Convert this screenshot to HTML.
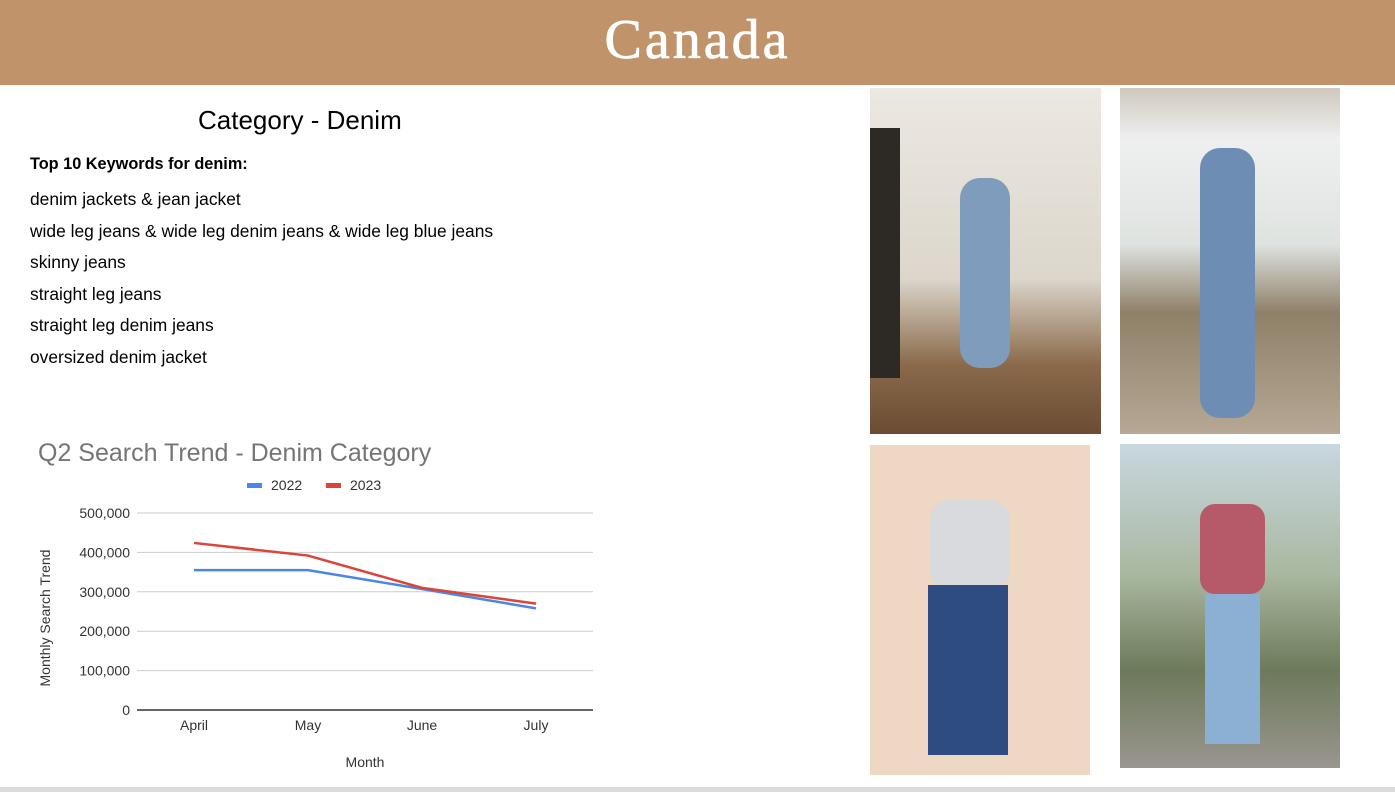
<!DOCTYPE html>
<html><head><meta charset="utf-8"><style>
body{margin:0;width:1395px;height:792px;background:#fff;position:relative;overflow:hidden;font-family:"Liberation Sans",sans-serif}
.hdr{position:absolute;left:0;top:0;width:1395px;height:85px;background:#c0936b}
.hdr h1{margin:0;text-align:center;color:#fff;font-family:"Liberation Serif",serif;font-weight:normal;font-size:56px;line-height:80px;letter-spacing:3px;-webkit-text-stroke:0.8px #fff}
.t{position:absolute;color:#000}
.ph{position:absolute}
</style></head><body>
<div class="hdr"><h1>Canada</h1></div>
<div class="t" style="left:198px;top:105px;font-size:26px">Category - Denim</div>
<div class="t" style="left:30px;top:155px;font-size:16.3px;font-weight:bold">Top 10 Keywords for denim:</div>
<div style="position:absolute;left:30px;top:184px;font-size:17.4px;line-height:31.6px">
<div>denim jackets &amp; jean jacket</div>
<div>wide leg jeans &amp; wide leg denim jeans &amp; wide leg blue jeans</div>
<div>skinny jeans</div>
<div>straight leg jeans</div>
<div>straight leg denim jeans</div>
<div>oversized denim jacket</div>
</div>
<svg id="chart" style="position:absolute;left:0;top:0" width="700" height="792"></svg>
<div class="ph" style="left:870px;top:88px;width:231px;height:346px;background:linear-gradient(180deg,#ece8e2 0%,#dcd6cc 55%,#8a6a4a 80%,#6b4c33 100%)"><div style="position:absolute;left:90px;top:90px;width:50px;height:190px;background:#7f9cbc;border-radius:20px"></div><div style="position:absolute;left:0;top:40px;width:30px;height:250px;background:#2d2a26"></div></div>
<div class="ph" style="left:1120px;top:88px;width:220px;height:346px;background:linear-gradient(180deg,#cfc8bd 0%,#eef0f0 15%,#dfe3e0 45%,#8f8068 65%,#b6a894 100%)"><div style="position:absolute;left:80px;top:60px;width:55px;height:270px;background:#6d8db5;border-radius:20px"></div></div>
<div class="ph" style="left:870px;top:445px;width:220px;height:330px;background:#eed7c3"><div style="position:absolute;left:60px;top:55px;width:80px;height:90px;background:#d9dadd;border-radius:20px"></div><div style="position:absolute;left:58px;top:140px;width:80px;height:170px;background:#2e4b82"></div></div>
<div class="ph" style="left:1120px;top:444px;width:220px;height:324px;background:linear-gradient(180deg,#c9d7e0 0%,#a9b8a0 40%,#6d7a5a 70%,#9a9690 100%)"><div style="position:absolute;left:80px;top:60px;width:65px;height:90px;background:#b65a6a;border-radius:15px"></div><div style="position:absolute;left:85px;top:150px;width:55px;height:150px;background:#8cb0d4"></div></div>
<div style="position:absolute;left:0;top:787px;width:1395px;height:5px;background:#dcdcdc"></div>
<script>
const months=["April","May","June","July"];
const s2022=[355000,355000,307000,258000];
const s2023=[424000,392000,310000,270000];
const yTicks=[0,100000,200000,300000,400000,500000];
const NS="http://www.w3.org/2000/svg";
const svg=document.getElementById('chart');
const x0=137,x1=593,yB=710,yT=513,yMax=500000;
const xs=i=>x0+(i+0.5)*(x1-x0)/months.length;
const ys=v=>yB-(v/yMax)*(yB-yT);
function mk(t,a){const e=document.createElementNS(NS,t);for(const k in a)e.setAttribute(k,a[k]);svg.appendChild(e);return e;}
let e=mk('text',{x:38,y:461,'font-size':25,fill:'#757575','font-family':'Liberation Sans'});e.textContent='Q2 Search Trend - Denim Category';


yTicks.forEach(v=>{
 const l=mk('line',{x1:x0,x2:x1,y1:ys(v),y2:ys(v),stroke:v===0?'#333':'#ccc','stroke-width':v===0?1.5:1});
 
 
 const t=mk('text',{x:130,y:ys(v)+5,'text-anchor':'end','font-size':14,fill:'#333','font-family':'Liberation Sans'});
 t.textContent=v.toLocaleString('en-US');
 
 
});
months.forEach((m,i)=>{
 const t=mk('text',{x:xs(i),y:730,'text-anchor':'middle','font-size':14,fill:'#333','font-family':'Liberation Sans'});
 t.textContent=m;
 
 
});
e=mk('text',{x:365,y:767,'text-anchor':'middle','font-size':14,fill:'#333','font-family':'Liberation Sans'});e.textContent='Month';


e=mk('text',{x:0,y:0,transform:'translate(50,618) rotate(-90)','text-anchor':'middle','font-size':14,fill:'#333','font-family':'Liberation Sans'});e.textContent='Monthly Search Trend';


[[s2022,'#4a86e8','2022',247],[s2023,'#db4437','2023',326]].forEach(([d,c,n,lx])=>{
 const p=mk('polyline',{points:d.map((v,i)=>xs(i)+','+ys(v)).join(' '),fill:'none',stroke:c,'stroke-width':2.5});
 
 
 const r=mk('rect',{x:lx,y:483,width:15,height:5,fill:c});
 
 
 const t=mk('text',{x:lx+24,y:490,'font-size':14,fill:'#333','font-family':'Liberation Sans'});t.textContent=n;
 
 
});
</script>
</body></html>
